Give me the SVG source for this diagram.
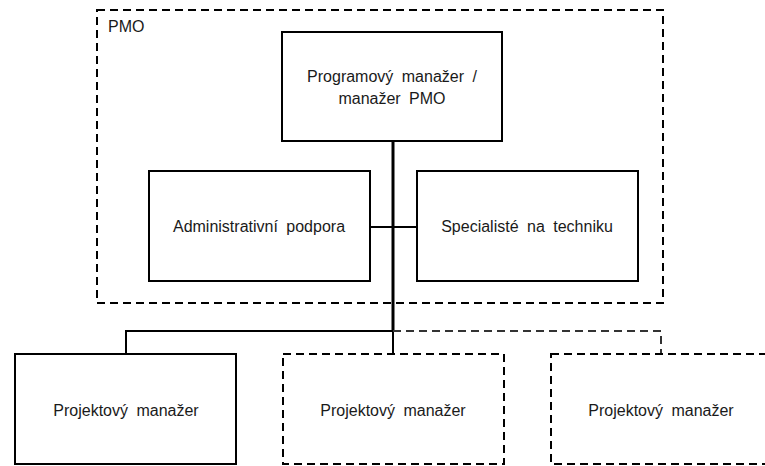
<svg xmlns="http://www.w3.org/2000/svg" width="765" height="466" viewBox="0 0 765 466">
<style>
.solid{fill:#fff;stroke:#000;stroke-width:2}
.dash{fill:none;stroke:#000;stroke-width:2;stroke-dasharray:8 5}
text{font-family:"Liberation Sans",Arial,sans-serif;font-size:16px;fill:#1a1a1a;text-anchor:middle;word-spacing:4px}
.lbl{text-anchor:start}
</style>
<rect width="765" height="466" fill="#fff"/>
<g id="pmo">
<rect class="dash" x="97" y="10" width="566" height="293"/>
<text class="lbl" x="108" y="32">PMO</text>
</g>
<g id="connectors">
<line x1="393" y1="141" x2="393" y2="332" stroke="#000" stroke-width="3"/>
<line x1="370" y1="227" x2="417" y2="227" stroke="#000" stroke-width="2"/>
<polyline points="393,331 126,331 126,353" fill="none" stroke="#000" stroke-width="2"/>
<line x1="393" y1="331" x2="393" y2="353" stroke="#000" stroke-width="2"/>
<polyline points="393,331 661,331 661,353" fill="none" stroke="#333" stroke-width="2" stroke-dasharray="8 5"/>
</g>
<g id="program-manager">
<rect class="solid" x="282" y="32" width="220" height="109"/>
<text x="392" y="82">Programový manažer /</text>
<text x="392" y="104">manažer PMO</text>
</g>
<g id="admin">
<rect class="solid" x="149" y="171" width="221" height="110"/>
<text x="259" y="232">Administrativní podpora</text>
</g>
<g id="specialists">
<rect class="solid" x="417" y="171" width="221" height="110"/>
<text x="527" y="232">Specialisté na techniku</text>
</g>
<g id="pm1">
<rect class="solid" x="15" y="354" width="221" height="110"/>
<text x="126" y="416">Projektový manažer</text>
</g>
<g id="pm2">
<rect class="dash" x="283" y="354" width="221" height="110"/>
<text x="393" y="416">Projektový manažer</text>
</g>
<g id="pm3">
<rect class="dash" x="551" y="354" width="230" height="110"/>
<text x="661" y="416">Projektový manažer</text>
</g>
</svg>
